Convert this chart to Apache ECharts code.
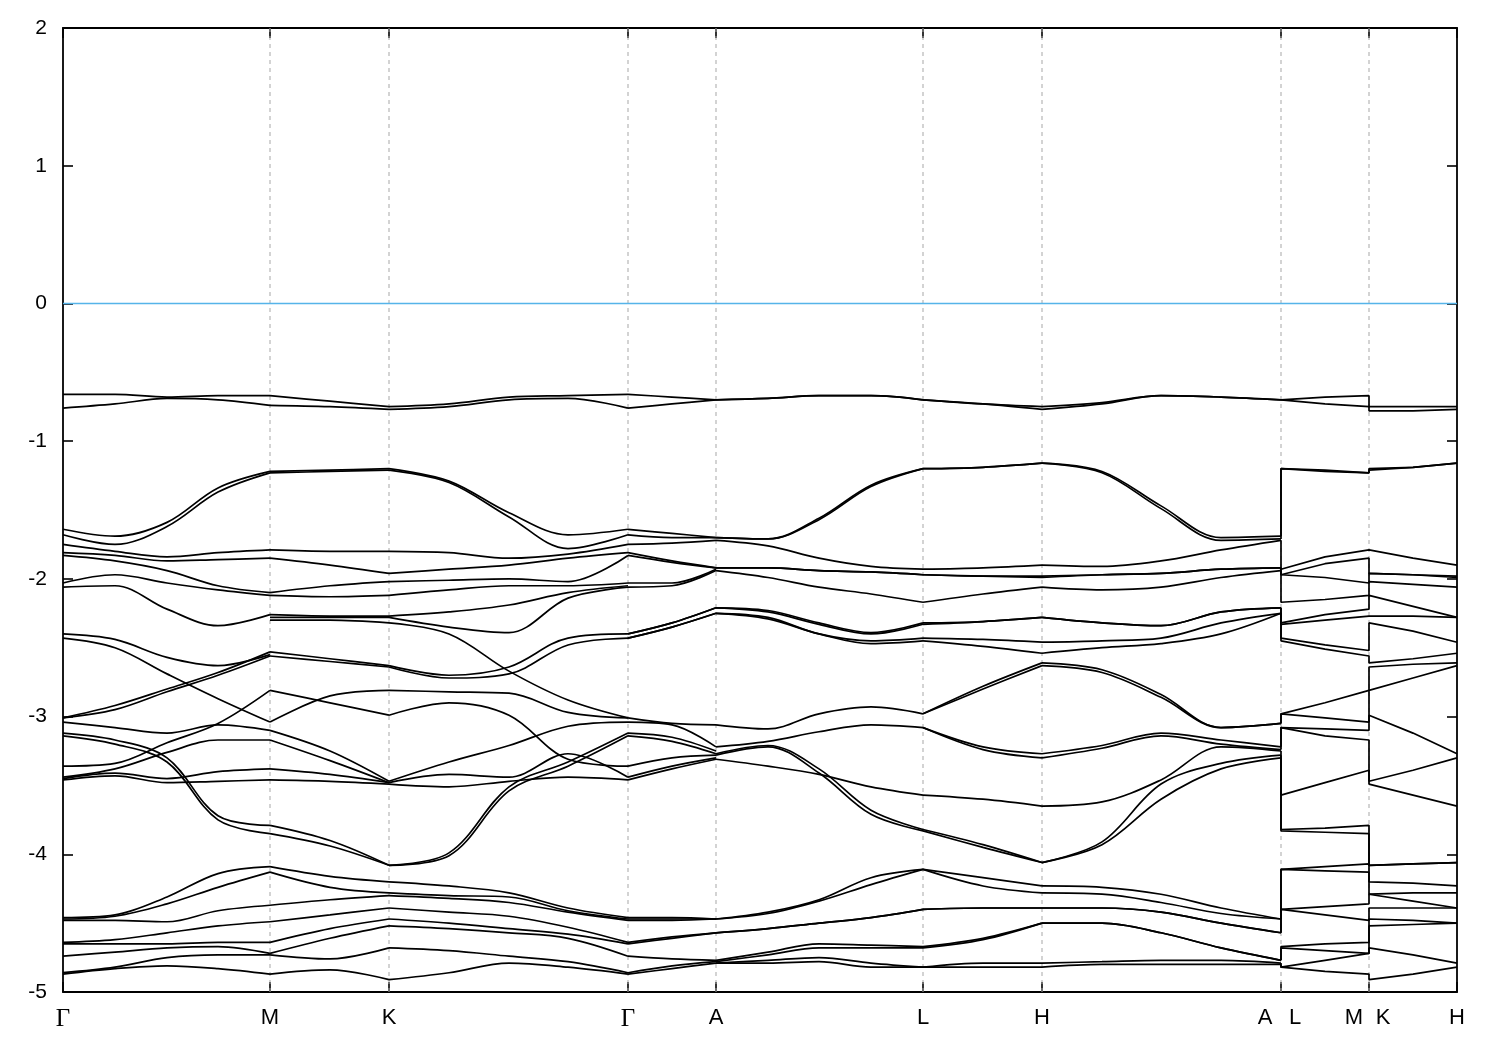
<!DOCTYPE html>
<html><head><meta charset="utf-8">
<script src="https://cdn.jsdelivr.net/npm/echarts@6/dist/echarts.min.js"></script>
<style>html,body{margin:0;padding:0;background:#fff}#c{width:1500px;height:1050px}</style>
</head><body><div id="c"></div>
<script>
// High-symmetry points along the k-path (path distance units)
const kTicks = [0, 207, 326, 565, 653, 860, 979, 1218, 1306, 1394];
const kLabelPos = [0, 207, 326, 565, 653, 860, 979, 1202, 1232, 1291, 1320, 1394];
const kLabels = ['Γ', 'M', 'K', 'Γ', 'A', 'L', 'H', 'A', 'L', 'M', 'K', 'H'];
const fermiLevel = 0;

// Band energies (eV): one column per sampled k-point, one entry per band, per path segment
const seg1X = [0, 52, 104, 155, 207];            // Γ - M
const seg1E = [
  [-0.66,-0.76,-1.64,-1.68,-1.75,-1.81,-1.83,-2.03,-2.06, -2.40,-2.43,-3.01,-3.01,-3.04,-3.12,-3.14,-3.36,-3.44,-3.45,-3.46, -4.46,-4.47,-4.48,-4.64,-4.65,-4.74,-4.86,-4.87],
  [-0.66,-0.73,-1.69,-1.75,-1.80,-1.83,-1.87,-1.97,-2.05, -2.44,-2.50,-2.92,-2.95,-3.08,-3.17,-3.20,-3.34,-3.38,-3.41,-3.43, -4.44,-4.45,-4.48,-4.62,-4.65,-4.71,-4.82,-4.83],
  [-0.68,-0.69,-1.59,-1.62,-1.84,-1.87,-1.94,-2.03,-2.22, -2.57,-2.69,-2.80,-2.82,-3.12,-3.30,-3.33,-3.19,-3.26,-3.45,-3.48, -4.31,-4.36,-4.49,-4.57,-4.65,-4.68,-4.75,-4.81],
  [-0.67,-0.70,-1.34,-1.37,-1.81,-1.86,-2.05,-2.08,-2.34, -2.63,-2.87,-2.68,-2.70,-3.06,-3.72,-3.75,-3.05,-3.17,-3.40,-3.47, -4.14,-4.24,-4.41,-4.52,-4.64,-4.67,-4.73,-4.83],
  [-0.67,-0.74,-1.22,-1.23,-1.79,-1.85,-2.10,-2.12,-2.26, -2.55,-3.04,-2.53,-2.56,-3.10,-3.79,-3.85,-2.81,-3.17,-3.38,-3.46, -4.09,-4.13,-4.37,-4.49,-4.64,-4.72,-4.73,-4.87]
];
const seg2X = [207, 267, 326];                   // M - K
const seg2E = [
  [-0.67,-0.74,-1.22,-1.23,-1.79,-1.85,-2.10,-2.12,-2.26,-2.28,-2.30, -2.53,-2.56,-2.81,-3.04,-3.10,-3.17,-3.38,-3.46, -3.79,-3.85,-4.09,-4.13,-4.37,-4.49,-4.64,-4.72,-4.73,-4.87],
  [-0.71,-0.75,-1.21,-1.22,-1.80,-1.90,-2.05,-2.13,-2.27,-2.28,-2.30, -2.58,-2.60,-2.90,-2.85,-3.25,-3.32,-3.42,-3.47, -3.90,-3.94,-4.16,-4.24,-4.33,-4.44,-4.54,-4.61,-4.76,-4.84],
  [-0.75,-0.77,-1.20,-1.21,-1.80,-1.96,-2.02,-2.12,-2.27,-2.28,-2.32, -2.63,-2.64,-2.99,-2.81,-3.47,-3.48,-3.48,-3.49, -4.08,-4.08,-4.20,-4.28,-4.30,-4.39,-4.47,-4.52,-4.68,-4.91]
];
const seg3X = [326, 386, 446, 505, 565];         // K - Γ
const seg3E = [
  [-0.75,-0.77,-1.20,-1.21,-1.80,-1.96,-2.02,-2.12, -2.27,-2.28,-2.32,-2.63,-2.64,-2.81,-2.99,-3.47,-3.48,-3.49,-4.08,-4.08, -4.20,-4.28,-4.30,-4.39,-4.47,-4.52,-4.68,-4.91],
  [-0.73,-0.75,-1.29,-1.30,-1.81,-1.93,-2.01,-2.08, -2.24,-2.35,-2.40,-2.70,-2.72,-2.82,-2.90,-3.33,-3.42,-3.51,-3.99,-4.01, -4.23,-4.30,-4.32,-4.42,-4.50,-4.54,-4.70,-4.86],
  [-0.68,-0.70,-1.52,-1.55,-1.85,-1.90,-2.00,-2.05, -2.19,-2.39,-2.67,-2.64,-2.69,-2.83,-2.99,-3.21,-3.44,-3.47,-3.51,-3.54, -4.28,-4.31,-4.35,-4.45,-4.54,-4.57,-4.74,-4.79],
  [-0.67,-0.69,-1.68,-1.78,-1.82,-1.85,-2.02,-2.05, -2.10,-2.14,-2.88,-2.43,-2.48,-2.97,-3.31,-3.07,-3.27,-3.44,-3.33,-3.36, -4.39,-4.41,-4.42,-4.53,-4.58,-4.61,-4.78,-4.82],
  [-0.66,-0.76,-1.64,-1.68,-1.75,-1.81,-1.83,-2.03, -2.05,-2.06,-3.01,-2.40,-2.43,-3.01,-3.36,-3.04,-3.44,-3.46,-3.12,-3.14, -4.46,-4.47,-4.48,-4.64,-4.65,-4.74,-4.86,-4.87]
];
const seg4X = [565, 609, 653];                   // Γ - A
const seg4E = [
  [-0.66,-0.76,-1.64,-1.68,-1.75,-1.81,-1.83,-2.03,-2.06,-2.40,-2.40,-2.43,-2.43,-3.01,-3.04,-3.12,-3.14,-3.36,-3.44,-3.46,-4.46,-4.47,-4.48,-4.64,-4.65,-4.74,-4.86,-4.87],
  [-0.68,-0.73,-1.67,-1.70,-1.74,-1.87,-1.88,-2.03,-2.05,-2.32,-2.32,-2.35,-2.35,-3.05,-3.06,-3.15,-3.18,-3.30,-3.36,-3.38,-4.46,-4.47,-4.48,-4.60,-4.61,-4.76,-4.81,-4.83],
  [-0.70,-0.70,-1.70,-1.70,-1.72,-1.92,-1.92,-1.93,-1.94,-2.21,-2.21,-2.25,-2.25,-3.06,-3.22,-3.25,-3.27,-3.28,-3.30,-3.31,-4.47,-4.47,-4.47,-4.57,-4.57,-4.77,-4.78,-4.79]
];
const seg5X = [653, 705, 756, 808, 860];         // A - L
const seg5E = [
  [-0.70,-0.70,-1.70,-1.70,-1.72,-1.92,-1.92,-1.94,-2.21,-2.21,-2.25,-2.25,-3.06,-3.22,-3.27,-3.28,-3.31,-4.47,-4.47,-4.57,-4.57,-4.77,-4.78,-4.79,-4.79],
  [-0.69,-0.69,-1.71,-1.71,-1.76,-1.92,-1.92,-1.99,-2.23,-2.24,-2.28,-2.29,-3.09,-3.18,-3.21,-3.22,-3.36,-4.42,-4.43,-4.54,-4.54,-4.71,-4.73,-4.77,-4.79],
  [-0.67,-0.67,-1.56,-1.57,-1.85,-1.94,-1.94,-2.06,-2.32,-2.33,-2.40,-2.40,-2.98,-3.11,-3.38,-3.41,-3.42,-4.33,-4.34,-4.50,-4.50,-4.65,-4.68,-4.75,-4.78],
  [-0.67,-0.67,-1.32,-1.33,-1.91,-1.95,-1.95,-2.11,-2.39,-2.40,-2.45,-2.47,-2.93,-3.06,-3.68,-3.71,-3.51,-4.17,-4.22,-4.46,-4.46,-4.66,-4.68,-4.79,-4.82],
  [-0.70,-0.70,-1.20,-1.20,-1.93,-1.97,-1.97,-2.17,-2.32,-2.33,-2.43,-2.45,-2.98,-3.08,-3.82,-3.83,-3.57,-4.11,-4.11,-4.40,-4.40,-4.67,-4.68,-4.82,-4.82]
];
const seg6X = [860, 920, 979];                   // L - H
const seg6E = [
  [-0.70,-0.70,-1.20,-1.20,-1.93,-1.97,-1.97,-2.17,-2.32,-2.33,-2.43,-2.45,-2.98,-2.98,-3.08,-3.08,-3.57,-3.82,-3.83,-4.11,-4.11,-4.40,-4.40,-4.67,-4.68,-4.82,-4.82],
  [-0.73,-0.73,-1.19,-1.19,-1.92,-1.98,-1.98,-2.11,-2.31,-2.31,-2.44,-2.49,-2.78,-2.80,-3.22,-3.24,-3.60,-3.93,-3.95,-4.17,-4.23,-4.39,-4.39,-4.61,-4.62,-4.79,-4.82],
  [-0.75,-0.77,-1.16,-1.16,-1.90,-1.98,-1.99,-2.06,-2.28,-2.28,-2.46,-2.54,-2.61,-2.63,-3.27,-3.30,-3.65,-4.06,-4.06,-4.23,-4.28,-4.39,-4.39,-4.50,-4.50,-4.79,-4.82]
];
const seg7X = [979, 1039, 1098, 1158, 1218];     // H - A
const seg7E = [
  [-0.75,-0.77,-1.16,-1.16,-1.90,-1.98,-1.99,-2.06,-2.28,-2.28,-2.46,-2.54,-2.61,-2.63,-3.27,-3.30,-3.65,-4.06,-4.06,-4.23,-4.28,-4.39,-4.39,-4.50,-4.50,-4.79,-4.82],
  [-0.72,-0.73,-1.22,-1.23,-1.91,-1.97,-1.97,-2.08,-2.32,-2.32,-2.45,-2.50,-2.66,-2.68,-3.21,-3.23,-3.62,-3.91,-3.93,-4.24,-4.29,-4.39,-4.39,-4.50,-4.50,-4.78,-4.80],
  [-0.67,-0.67,-1.47,-1.49,-1.87,-1.96,-1.96,-2.06,-2.34,-2.34,-2.43,-2.47,-2.84,-2.86,-3.12,-3.14,-3.46,-3.49,-3.60,-4.29,-4.35,-4.42,-4.42,-4.57,-4.57,-4.77,-4.80],
  [-0.68,-0.68,-1.70,-1.72,-1.79,-1.93,-1.93,-1.99,-2.24,-2.24,-2.32,-2.40,-3.08,-3.08,-3.17,-3.20,-3.22,-3.34,-3.38,-4.39,-4.43,-4.50,-4.50,-4.68,-4.68,-4.77,-4.80],
  [-0.70,-0.70,-1.69,-1.71,-1.72,-1.92,-1.92,-1.94,-2.21,-2.21,-2.25,-2.25,-3.05,-3.05,-3.22,-3.24,-3.25,-3.28,-3.30,-4.47,-4.47,-4.57,-4.57,-4.77,-4.77,-4.79,-4.80]
];
const seg8X = [1218, 1218, 1262, 1306, 1306, 1350, 1394]; // A | L - M | K - H
const seg8E = [
  [-0.70,-0.70,-1.69,-1.71,-1.72,-1.92,-1.92,-1.94,-2.21,-2.21,-2.25,-2.25,-3.05,-3.05,-3.22,-3.24,-3.25,-3.28,-3.30,-4.47,-4.47,-4.57,-4.57,-4.77,-4.77,-4.79,-4.80],
  [-0.70,-0.70,-1.20,-1.20,-1.93,-1.97,-1.97,-2.17,-2.32,-2.33,-2.43,-2.45,-2.98,-2.98,-3.08,-3.08,-3.57,-3.82,-3.83,-4.11,-4.11,-4.40,-4.40,-4.67,-4.68,-4.82,-4.82],
  [-0.68,-0.73,-1.21,-1.22,-1.84,-1.89,-1.99,-2.15,-2.26,-2.30,-2.48,-2.51,-2.90,-3.01,-3.09,-3.14,-3.48,-3.81,-3.84,-4.09,-4.12,-4.38,-4.44,-4.65,-4.70,-4.77,-4.85],
  [-0.67,-0.75,-1.23,-1.23,-1.79,-1.85,-2.03,-2.12,-2.22,-2.27,-2.52,-2.56,-2.81,-3.04,-3.10,-3.17,-3.39,-3.79,-3.85,-4.07,-4.13,-4.36,-4.48,-4.64,-4.72,-4.72,-4.87],
  [-0.75,-0.78,-1.20,-1.21,-1.80,-1.96,-1.96,-2.02,-2.12,-2.27,-2.32,-2.61,-2.64,-2.81,-2.99,-3.47,-3.49,-4.08,-4.08,-4.20,-4.29,-4.29,-4.39,-4.47,-4.52,-4.68,-4.91],
  [-0.75,-0.78,-1.19,-1.19,-1.85,-1.97,-1.97,-2.04,-2.20,-2.27,-2.38,-2.58,-2.62,-2.72,-3.12,-3.39,-3.57,-4.07,-4.07,-4.21,-4.28,-4.34,-4.39,-4.48,-4.51,-4.73,-4.87],
  [-0.75,-0.77,-1.16,-1.16,-1.90,-1.98,-1.99,-2.06,-2.28,-2.28,-2.46,-2.54,-2.61,-2.63,-3.27,-3.30,-3.65,-4.06,-4.06,-4.23,-4.28,-4.39,-4.39,-4.50,-4.50,-4.79,-4.82]
];

const segments = [
  {x: seg1X, e: seg1E, smooth: 0.35}, {x: seg2X, e: seg2E, smooth: 0.35},
  {x: seg3X, e: seg3E, smooth: 0.35}, {x: seg4X, e: seg4E, smooth: 0.35},
  {x: seg5X, e: seg5E, smooth: 0.35}, {x: seg6X, e: seg6E, smooth: 0.35},
  {x: seg7X, e: seg7E, smooth: 0.35}, {x: seg8X, e: seg8E, smooth: false}
];

const series = [];
// dashed vertical lines at interior high-symmetry points
kTicks.slice(1, -1).forEach(k => {
  series.push({type: 'line', data: [[k, -5], [k, 2]], symbol: 'none', silent: true, z: 1,
    lineStyle: {color: '#a8a8a8', width: 1, type: [4, 4]}});
});
segments.forEach(seg => {
  const n = seg.e[0].length;
  for (let b = 0; b < n; b++) {
    series.push({type: 'line', data: seg.x.map((xv, i) => [xv, seg.e[i][b]]),
      smooth: seg.smooth, symbol: 'none', silent: true, z: 3,
      lineStyle: {color: '#000', width: 1.7}});
  }
});
series.push({type: 'line', data: [[0, fermiLevel], [1394, fermiLevel]], symbol: 'none', silent: true, z: 2,
  lineStyle: {color: '#56b4e9', width: 1.5}});

const axisLineStyle = {show: true, onZero: false, lineStyle: {color: '#000', width: 1.8}};
const tickStyle = {color: '#000', width: 1.6};

const chart = echarts.init(document.getElementById('c'), null, {renderer: 'canvas'});
chart.setOption({
  animation: false,
  backgroundColor: '#fff',
  grid: {left: 63, right: 43, top: 28, bottom: 58, containLabel: false, outerBoundsMode: 'none'},
  xAxis: [
    {type: 'value', min: 0, max: 1394, position: 'bottom',
      axisLine: axisLineStyle,
      axisTick: {show: true, inside: true, length: 10, customValues: kTicks, lineStyle: tickStyle},
      axisLabel: {customValues: kLabelPos, margin: 15, color: '#000', fontSize: 22,
        fontFamily: 'Liberation Sans',
        formatter: v => {
          const i = kLabelPos.indexOf(v);
          const t = i >= 0 ? kLabels[i] : '';
          return t === 'Γ' ? '{g|Γ}' : t;
        },
        rich: {g: {fontFamily: 'Liberation Serif', fontSize: 25, color: '#000'}}},
      splitLine: {show: false}},
    {type: 'value', min: 0, max: 1394, position: 'top',
      axisLine: axisLineStyle,
      axisTick: {show: true, inside: true, length: 10, customValues: kTicks, lineStyle: tickStyle},
      axisLabel: {show: false}, splitLine: {show: false}}
  ],
  yAxis: [
    {type: 'value', min: -5, max: 2, interval: 1, position: 'left',
      axisLine: axisLineStyle,
      axisTick: {show: true, inside: true, length: 10, lineStyle: tickStyle},
      axisLabel: {color: '#000', fontSize: 21, margin: 16, fontFamily: 'Liberation Sans',
        showMinLabel: true, showMaxLabel: true},
      splitLine: {show: false}},
    {type: 'value', min: -5, max: 2, interval: 1, position: 'right',
      axisLine: axisLineStyle,
      axisTick: {show: true, inside: true, length: 10, lineStyle: tickStyle},
      axisLabel: {show: false}, splitLine: {show: false}}
  ],
  series: series
});
</script></body></html>
